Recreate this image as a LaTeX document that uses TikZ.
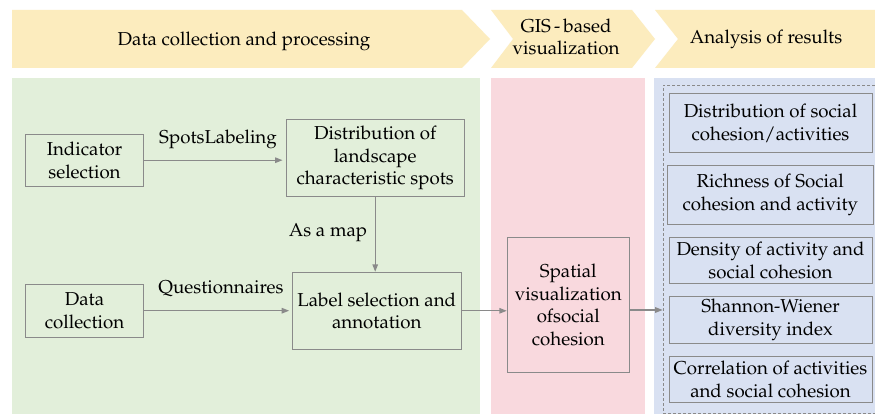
\documentclass[tikz,border=0pt]{standalone}
\usepackage[T1]{fontenc}
\usepackage{mathpazo}
\usetikzlibrary{arrows.meta}
\definecolor{chevfill}{RGB}{252,236,190}
\definecolor{greenbg}{RGB}{226,239,218}
\definecolor{pinkbg}{RGB}{249,217,222}
\definecolor{bluebg}{RGB}{217,225,242}
\definecolor{linegray}{RGB}{138,138,138}
\tikzset{
  stepbox/.style={draw=linegray, line width=0.9pt, align=center, inner sep=0pt},
  flow/.style={draw=linegray, line width=1.3pt, -{Triangle[length=7.5pt,width=5.5pt]}},
  lbl/.style={inner sep=0pt, align=center},
  chev/.style={fill=chevfill, draw=none},
}
\begin{document}
\begin{tikzpicture}[x=1pt, y=-1pt, font=\fontsize{18.7}{22.6}\selectfont]
\useasboundingbox (0,0) rectangle (875,414);
\fill[white] (0,0) rectangle (875,414);
% chevrons
\path[chev] (12,10) -- (462,10) -- (490,39) -- (462,68) -- (12,68) -- cycle;
\path[chev] (491,10) -- (632,10) -- (655,39) -- (632,68) -- (491,68) -- (513,39) -- cycle;
\path[chev] (655,10) -- (875,10) -- (875,68) -- (655,68) -- (678,39) -- cycle;
\node[lbl] (h1) at (244,41) {Data collection and processing};
\node[lbl] (h2) at (566,37) {GIS\,-\,based\\visualization};
\node[lbl] (h3) at (766,39) {Analysis of results};
% panels
\fill[greenbg] (12,78) rectangle (480,414);
\fill[pinkbg] (491,78) rectangle (645,414);
\fill[bluebg] (654,78) rectangle (875,414);
\node[draw=linegray, dashed, dash pattern=on 3pt off 2pt, line width=0.7pt, inner sep=0pt,
      minimum width=212pt, minimum height=328pt] (rbox) at (769,249) {};
% left boxes
\node[stepbox, minimum width=117.6pt, minimum height=51.7pt] (ind) at (84.5,160.2) {Indicator\\selection};
\node[stepbox, minimum width=178.3pt, minimum height=77.4pt] (dist) at (375.2,158) {Distribution of\\landscape\\characteristic spots};
\node[stepbox, minimum width=117.6pt, minimum height=53.3pt] (data) at (84.5,310.7) {Data\\collection};
\node[stepbox, minimum width=168.3pt, minimum height=77pt] (lab) at (376.8,310.8) {Label selection and\\annotation};
\node[stepbox, minimum width=122pt, minimum height=135pt] (spat) at (568.3,305) {Spatial\\visualization\\ofsocial\\cohesion};
% right boxes
\node[stepbox, minimum width=203pt, minimum height=58.7pt] (r1) at (770.5,123.3) {Distribution of social\\cohesion/activities};
\node[stepbox, minimum width=205.3pt, minimum height=58.6pt] (r2) at (770.3,195) {Richness of Social\\cohesion and activity};
\node[stepbox, minimum width=203pt, minimum height=46pt] (r3) at (770.5,260.3) {Density of activity and\\social cohesion};
\node[stepbox, minimum width=203pt, minimum height=46.6pt] (r4) at (770.5,320) {Shannon-Wiener\\diversity index};
\node[stepbox, minimum width=203pt, minimum height=46.7pt] (r5) at (770.5,379.3) {Correlation of activities\\and social cohesion};
% connectors
\coordinate (sp) at ([yshift=-5pt]spat.east);
\draw[flow, shorten >=3pt] (ind.east) -- (ind.east -| dist.west);
\draw[flow, shorten >=3pt] (data.east) -- (data.east -| lab.west);
\draw[flow] (dist.south) -- (dist.south |- lab.north);
\draw[flow] (lab.east) -- (lab.east -| spat.west);
\draw[flow] (sp) -- (sp -| rbox.west);
% labels
\node[lbl] (t1) at (218,139) {SpotsLabeling};
\node[lbl] (t2) at (221,288.3) {Questionnaires};
\node[lbl] (t3) at (328,232.7) {As a map};
\end{tikzpicture}
\end{document}
